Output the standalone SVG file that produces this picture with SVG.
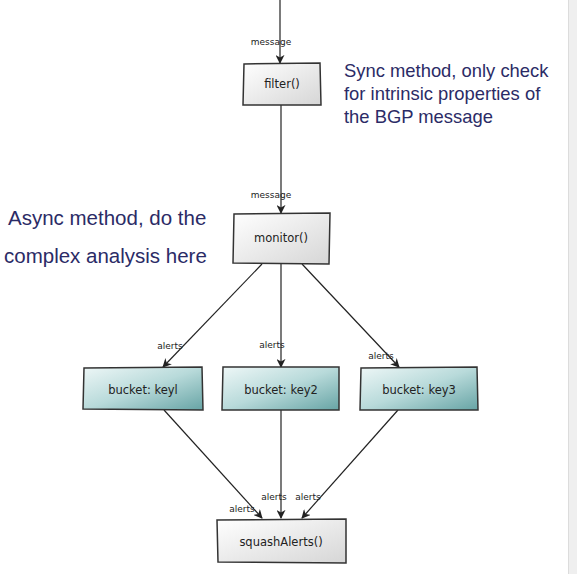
<svg xmlns="http://www.w3.org/2000/svg" width="577" height="574" viewBox="0 0 577 574">
<defs>
<linearGradient id="grey" x1="0" y1="0" x2="1" y2="1">
<stop offset="0" stop-color="#ffffff"/>
<stop offset="1" stop-color="#d6d6d6"/>
</linearGradient>
<linearGradient id="teal" x1="0" y1="0" x2="1" y2="1">
<stop offset="0" stop-color="#eef7f7"/>
<stop offset="0.5" stop-color="#b8dada"/>
<stop offset="1" stop-color="#67a4a5"/>
</linearGradient>
<marker id="arr" viewBox="0 0 10 10" refX="9" refY="5" markerWidth="9" markerHeight="9" orient="auto" markerUnits="userSpaceOnUse">
<path d="M0,0 L10,5 L0,10 L3,5 Z" fill="#222"/>
</marker>
</defs>
<style>
.box{stroke:#333;stroke-width:1.5}
.g{fill:url(#grey)}
.t{fill:url(#teal)}
.lbl{font-family:"DejaVu Sans",sans-serif;font-size:11.5px;fill:#222;text-anchor:middle}
.sm{font-family:"DejaVu Sans",sans-serif;font-size:9px;fill:#222;text-anchor:middle}
.note{font-family:"Liberation Sans",Arial,sans-serif;fill:#2b2b66}
.c{stroke:#222;stroke-width:1.2;fill:none;marker-end:url(#arr)}
</style>
<rect width="577" height="574" fill="#fff"/>
<rect x="568" y="0" width="9" height="574" fill="#efefef"/>
<line x1="568.5" y1="0" x2="568.5" y2="574" stroke="#dcdcdc"/>

<g id="connectors">
<line class="c" x1="280" y1="0" x2="280" y2="63"/>
<line class="c" x1="281" y1="105" x2="281" y2="213"/>
<line class="c" x1="262" y1="264" x2="163" y2="367"/>
<line class="c" x1="281" y1="264" x2="281" y2="367"/>
<line class="c" x1="302" y1="264" x2="399" y2="367"/>
<line class="c" x1="164" y1="410" x2="262" y2="518"/>
<line class="c" x1="281" y1="410" x2="281" y2="518"/>
<line class="c" x1="398" y1="410" x2="302" y2="518"/>
<text class="sm" x="271" y="45">message</text>
<text class="sm" x="271" y="198">message</text>
<text class="sm" x="170" y="349">alerts</text>
<text class="sm" x="272" y="348">alerts</text>
<text class="sm" x="381" y="359">alerts</text>
<text class="sm" x="242" y="512">alerts</text>
<text class="sm" x="274" y="500">alerts</text>
<text class="sm" x="308" y="500">alerts</text>
</g>

<g id="filter">
<path class="box g" d="M244,64 L320,63 L321,105 L243,105 Z"/>
<text class="lbl" x="282" y="88">filter()</text>
</g>
<g id="monitor">
<path class="box g" d="M234,214 L330,213 L329,264 L233,263 Z"/>
<text class="lbl" x="281" y="242">monitor()</text>
</g>
<g id="key1">
<path class="box t" d="M84,368 L202,367 L203,410 L83,409 Z"/>
<text class="lbl" x="143" y="394">bucket: keyl</text>
</g>
<g id="key2">
<path class="box t" d="M223,367 L339,367 L339,410 L222,410 Z"/>
<text class="lbl" x="281" y="394">bucket: key2</text>
</g>
<g id="key3">
<path class="box t" d="M361,368 L477,367 L478,410 L360,410 Z"/>
<text class="lbl" x="419" y="394">bucket: key3</text>
</g>
<g id="squash">
<path class="box g" d="M217,520 L346,519 L346,563 L218,562 Z"/>
<text class="lbl" x="281" y="546">squashAlerts()</text>
</g>

<g id="notes">
<text class="note" font-size="18.4" x="344" y="77">Sync method, only check</text>
<text class="note" font-size="18.4" x="344" y="100">for intrinsic properties of</text>
<text class="note" font-size="18.4" x="344" y="123">the BGP message</text>
<text class="note" font-size="20.5" x="8" y="225">Async method, do the</text>
<text class="note" font-size="20.5" x="4" y="263">complex analysis here</text>
</g>
</svg>
